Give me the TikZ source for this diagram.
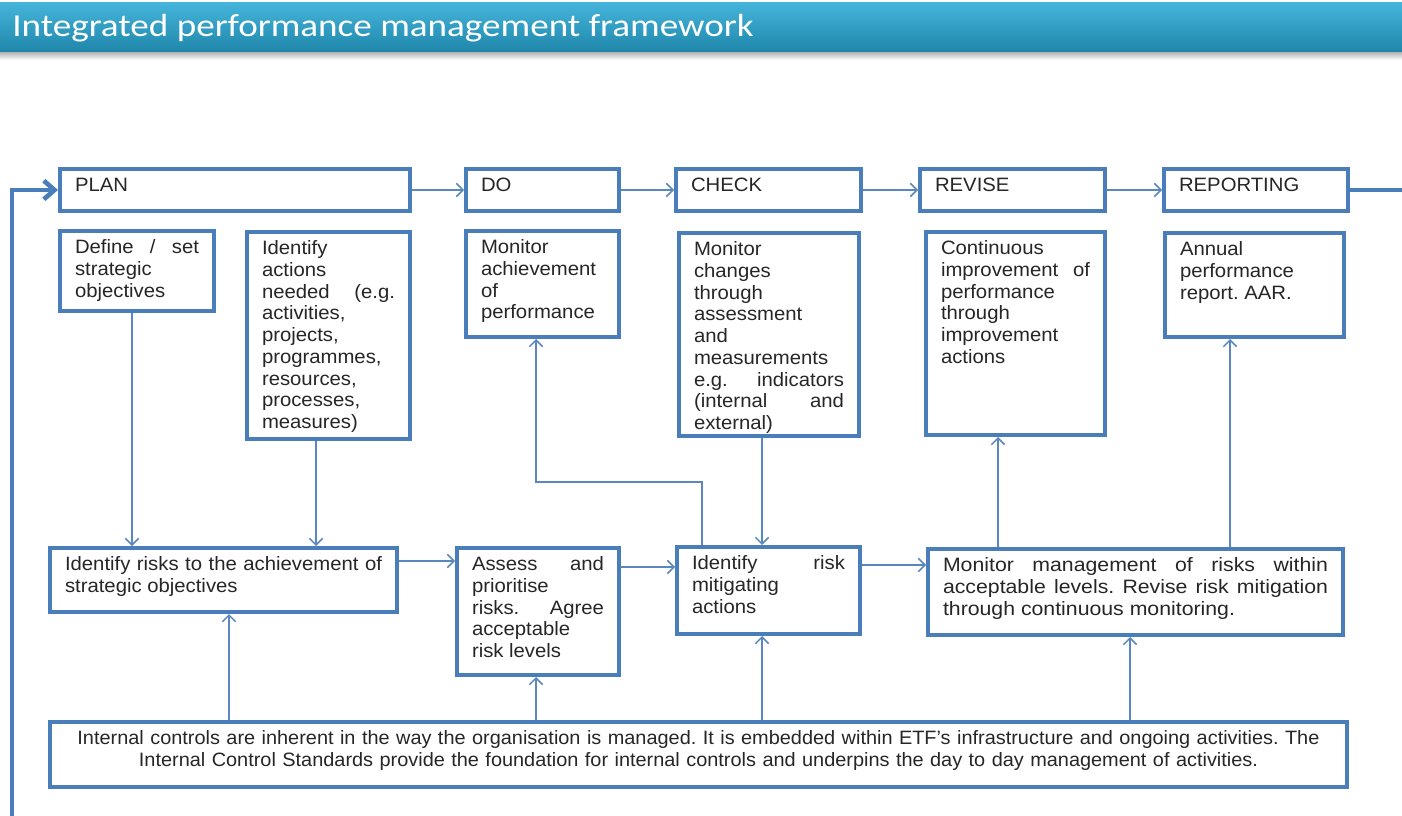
\documentclass[tikz,border=0pt]{standalone}
\usepackage{fontspec}
\setmainfont[FakeStretch=1.05]{Liberation Sans}
\newfontfamily\widefont[FakeStretch=1.1]{Liberation Sans}
\newfontfamily\notefont[FakeStretch=1.03]{Liberation Sans}
\newfontfamily\titlefont[FakeStretch=1.16]{Carlito}
\usetikzlibrary{arrows.meta}
\usetikzlibrary{calc}
\definecolor{etf-blue}{HTML}{4A7EBB}
\definecolor{etf-line}{HTML}{5A88BE}
\definecolor{title-top}{HTML}{45B4DA}
\definecolor{title-bottom}{HTML}{1F86AA}
\colorlet{frame}{etf-blue}
\frenchspacing
\hyphenpenalty=10000
\tolerance=10000
\hbadness=10000
% box given by its corners in pixels, text set from the top left
\newcommand{\tikzstagebox}[7][]{%
\pgfmathsetlengthmacro{\stagewidth}{0.75pt*(#5-#3-30)}
\pgfmathsetlengthmacro{\stagedepth}{0.75pt*(#6-#4)-23.5pt}
\node[stage,#1,text width=\stagewidth,text depth=\stagedepth] (#2) at (#3,#4) {#7};
}

\begin{document}
\begin{tikzpicture}[x=0.75pt, y=-0.75pt,
  stage/.style={draw=frame, line width=3pt, fill=white, anchor=north west, inner xsep=11.25pt, inner ysep=6.5pt, text height=10.5pt, align=justify, text=black!85, font=\fontsize{14.5}{16.3}\selectfont},
  flow/.style={draw=etf-line, line width=1.1pt, -{Straight Barb[length=5pt,width=10pt]}},
  feedback/.style={draw=frame, line width=3.5pt, -{Straight Barb[length=8pt,width=14pt]}}]
\fill[white] (0,0) rectangle (1402,816);
\useasboundingbox (0,0) rectangle (1402,816);
% title bar
\shade[top color=black!30, bottom color=white] (0,52) rectangle (1402,60);
\shade[top color=title-top, bottom color=title-bottom] (0,3) rectangle (1402,52);
\node[font=\titlefont\fontsize{24}{28}\selectfont, text=white, anchor=base west, inner sep=0pt] (title) at (12,37) {Integrated performance management framework};
% stages
\tikzstagebox{plan}{58}{167}{408}{209}{PLAN}
\tikzstagebox{do}{464}{167}{617}{209}{DO}
\tikzstagebox{check}{674}{167}{859}{209}{CHECK}
\tikzstagebox{revise}{918}{167}{1103}{209}{REVISE}
\tikzstagebox{reporting}{1162}{167}{1346}{209}{REPORTING}
% what each stage covers
\tikzstagebox{define}{58}{229}{212}{309}{Define / set\linebreak strategic\newline objectives}
\tikzstagebox{actions}{245}{230}{408}{437}{Identify\newline actions\newline needed (e.g.\linebreak activities,\newline projects,\newline programmes,\newline resources,\newline processes,\newline measures)}
\tikzstagebox{achieve}{464}{229}{617}{335}{Monitor\newline achievement\newline of\newline performance}
\tikzstagebox{changes}{677}{231}{857}{434}{Monitor\newline changes\newline through\newline assessment\newline and\newline measurements\newline e.g. indicators\linebreak (internal and\linebreak external)}
\tikzstagebox{cont}{924}{230}{1103}{433}{Continuous\newline improvement of\linebreak performance\newline through\newline improvement\newline actions}
\tikzstagebox{annual}{1163}{231}{1342}{335}{Annual\newline performance\newline report. AAR.}
% risk row
\tikzstagebox{risks}{48}{546}{395}{610}{Identify risks to the achievement of\linebreak strategic objectives}
\tikzstagebox{assess}{455}{546}{617}{673}{Assess and\linebreak prioritise\newline risks. Agree\linebreak acceptable\newline risk levels}
\tikzstagebox{mitig}{675}{545}{858}{632}{Identify risk\linebreak mitigating\newline actions}
\tikzstagebox[font=\widefont\fontsize{14.5}{16.3}\selectfont]{monitor}{926}{547}{1341}{633}{Monitor management of risks within\linebreak acceptable levels. Revise risk mitigation\linebreak through continuous monitoring.}
\tikzstagebox[align=center, font=\notefont\fontsize{14.5}{16.3}\selectfont]{internal}{48}{720}{1345}{785}{Internal controls are inherent in the way the organisation is managed. It is embedded within ETF’s infrastructure and ongoing activities. The\\Internal Control Standards provide the foundation for internal controls and underpins the day to day management of activities.}
% top row
\draw[flow] (plan) -- (do);
\draw[flow] (do) -- (check);
\draw[flow] (check) -- (revise);
\draw[flow] (revise) -- (reporting);
% planning down to the risks
\draw[flow] (132,0 |- define.south) -- (132,0 |- risks.north);
\draw[flow] (316,0 |- actions.south) -- (316,0 |- risks.north);
% risk row
\draw[flow] (risks.east |- 0,561) -- (assess.west |- 0,561);
\draw[flow] (assess.east |- 0,567) -- (mitig.west |- 0,567);
\draw[flow] (mitig.east |- 0,565) -- (monitor.west |- 0,565);
% risk row up and down to the stages
\draw[flow] (702,0 |- mitig.north) |- (536,482) -- (536,0 |- achieve.south);
\draw[flow] (762,0 |- changes.south) -- (762,0 |- mitig.north);
\draw[flow] (998,0 |- monitor.north) -- (998,0 |- cont.south);
\draw[flow] (1230,0 |- monitor.north) -- (1230,0 |- annual.south);
% internal controls under everything
\foreach \x/\target in {229/risks,536/assess,762/mitig,1130/monitor}
  \draw[flow] (\x,0 |- internal.north) -- (\x,0 |- \target.south);
% the cycle
\coordinate (loop-in) at (12,816);
\coordinate (loop-out) at (reporting.east -| 1402,0);
\draw[feedback] (loop-in) |- (plan.west);
\draw[feedback,-] (reporting.east) -- (loop-out);
\end{tikzpicture}
\end{document}
